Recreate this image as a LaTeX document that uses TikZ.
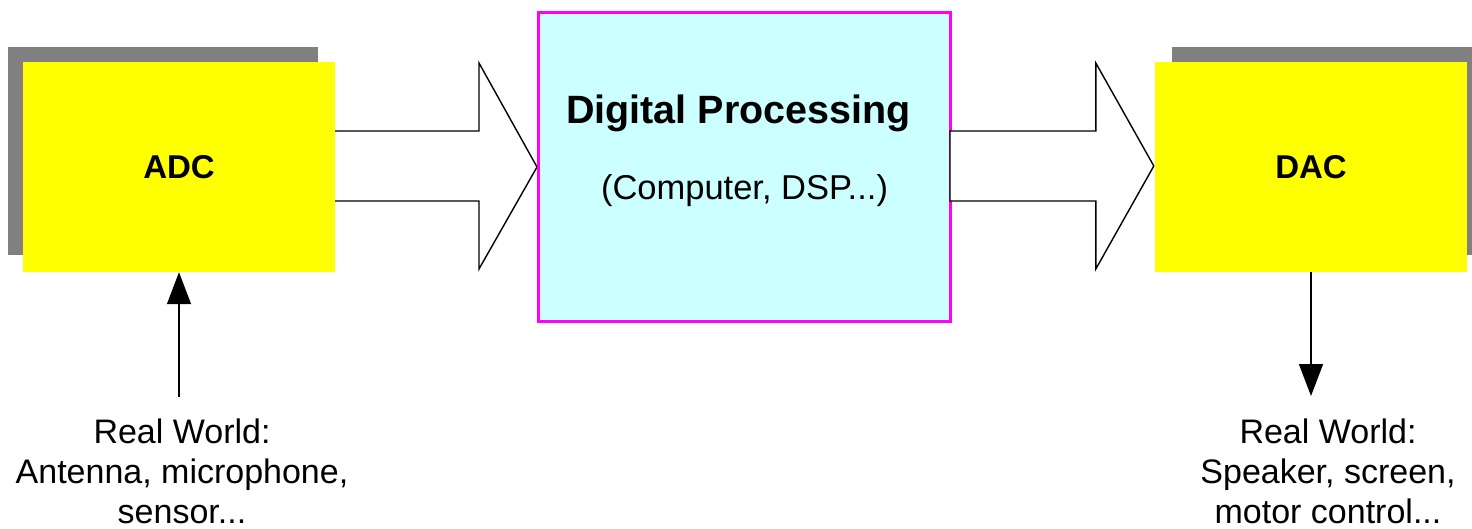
\documentclass[tikz,border=0pt]{standalone}
\usepackage{fontspec}
\setmainfont{Liberation Sans}
\usetikzlibrary{arrows.meta,calc,backgrounds}
\definecolor{boxyellow}{HTML}{FFFF00}
\definecolor{shadowgray}{HTML}{808080}
\definecolor{dpcyan}{HTML}{CCFFFF}
\definecolor{dpmagenta}{HTML}{FF00FF}
\begin{document}
\begin{tikzpicture}[x=1pt,y=-1pt,
  convbox/.style={fill=boxyellow,minimum width=312pt,minimum height=210pt,inner sep=0pt,
    font=\fontsize{33}{40}\selectfont\bfseries},
  dpbox/.style={fill=dpcyan,draw=dpmagenta,line width=3pt,minimum width=412pt,minimum height=309pt,inner sep=0pt},
  blockarrow/.style={draw=black,fill=white,line width=1.4pt,line join=miter},
  sig/.style={line width=1.5pt,-{Triangle[length=32pt,width=24pt]}},
  lbl/.style={align=center,inner sep=0pt,font=\fontsize{34}{40}\selectfont},
  shade/.style={fill=shadowgray}]
\useasboundingbox (0,0) rectangle (1472,528);

% converters and processing block
\node[convbox] (adc) at (179,167) {ADC};
\node[dpbox] (dp) at (744.5,167) {};
\node[convbox] (dac) at (1311,167) {DAC};

% drop shadows and the input block arrow sit behind the boxes
\begin{scope}[on background layer]
  \fill[shade] ($(adc.north west)+(-15,-15)$) rectangle ($(adc.south east)+(-17,-17)$);
  \fill[shade] ($(dac.north west)+(17,-15)$) rectangle ($(dac.south east)+(7,-17)$);
  \draw[blockarrow] ($(adc.east)+(-10,-36)$) -- ($(dp.west)+(-58,-36)$)
    -- ($(dp.west)+(-58,-104)$) -- (dp.west) -- ($(dp.west)+(-58,102)$)
    -- ($(dp.west)+(-58,34)$) -- ($(adc.east)+(-10,34)$) -- cycle;
\end{scope}

% output block arrow
\draw[blockarrow] ($(dp.east)+(-2,-36)$) -- ($(dac.west)+(-59,-36)$)
  -- ($(dac.west)+(-59,-104)$) -- ($(dac.west)+(-1,-1)$) -- ($(dac.west)+(-59,102)$)
  -- ($(dac.west)+(-59,34)$) -- ($(dp.east)+(-2,34)$) -- cycle;

% processing block texts
\node[anchor=base,inner sep=0pt,font=\fontsize{39.5}{47}\selectfont\bfseries] (dptitle) at (738.5,123) {Digital Processing};
\node[anchor=base,inner sep=0pt,font=\fontsize{34.5}{40}\selectfont] (dpsub) at (744.5,199) {(Computer, DSP...)};

% real world side
\node[lbl,anchor=north] (rwin) at (182,419) {Real World:\\Antenna, microphone,\\sensor...};
\node[lbl,anchor=north] (rwout) at (1328,419) {Real World:\\Speaker, screen,\\motor control...};
\coordinate (inend) at (179,397);
\coordinate (outend) at (1311,396);
\draw[sig] (inend) -- (adc.south);
\draw[sig] (dac.south) -- (outend);
\end{tikzpicture}
\end{document}
